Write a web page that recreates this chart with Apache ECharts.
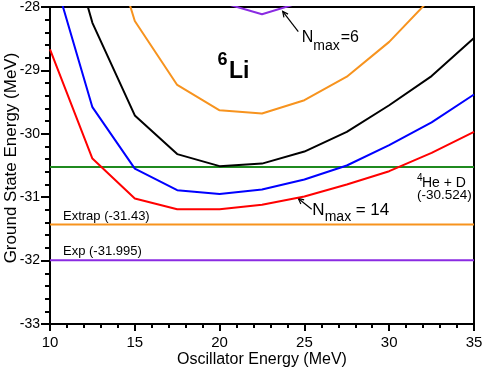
<!DOCTYPE html>
<html>
<head>
<meta charset="utf-8">
<script src="https://cdn.jsdelivr.net/npm/echarts@6/dist/echarts.min.js"></script>
<style>
  html, body { margin: 0; padding: 0; background: #fff; }
  #main { width: 491px; height: 368px; }
</style>
</head>
<body>
<div id="main"></div>
<script>
// oscillator energies (MeV)
var hw = [10, 12.5, 15, 17.5, 20, 22.5, 25, 27.5, 30, 32.5, 35];

// ground state energy per Nmax (values above -28 run off the top of the frame)
var nmax14 = [-28.67, -30.39, -31.02, -31.19, -31.19, -31.12, -30.99, -30.80, -30.59, -30.30, -29.97];
var nmax12 = [-27.30, -29.58, -30.55, -30.89, -30.95, -30.88, -30.72, -30.50, -30.18, -29.82, -29.38];
var nmax10 = [-25.90, -28.25, -29.71, -30.32, -30.51, -30.47, -30.28, -29.97, -29.55, -29.09, -28.49];
var nmax8 = [null, -26.06, -28.22, -29.23, -29.63, -29.68, -29.47, -29.10, -28.55, -27.85, null];
var nmax6 = [null, null, null, null, -27.92, -28.115, -27.91, null, null, null, null];

// reference levels
var heD = -30.524;
var extrap = -31.43;
var expt = -31.995;

var xTicks = [10, 15, 20, 25, 30, 35];

function pairs(ys) {
    var out = [];
    for (var i = 0; i < hw.length; i++) {
        if (ys[i] !== null) out.push([hw[i], ys[i]]);
    }
    return out;
}
function level(v) {
    return [[hw[0], v], [hw[hw.length - 1], v]];
}

var font = 'Liberation Sans';
var myChart = echarts.init(document.getElementById('main'));

function lineSeries(name, data, color) {
    return {
        name: name,
        type: 'line',
        data: data,
        symbol: 'none',
        clip: true,
        silent: true,
        lineStyle: { color: color, width: 2 }
    };
}

var option = {
    animation: false,
    backgroundColor: '#fff',
    textStyle: { fontFamily: font },
    grid: {
        left: 50, right: 17, top: 7, bottom: 44,
        containLabel: false, outerBoundsMode: 'none',
        show: true, borderColor: '#000', borderWidth: 2, backgroundColor: 'transparent'
    },
    xAxis: {
        type: 'value',
        min: 10, max: 35, interval: 5,
        name: 'Oscillator Energy (MeV)',
        nameLocation: 'middle',
        nameGap: 28,
        nameMoveOverlap: false,
        nameTextStyle: { color: '#000', fontSize: 16, fontFamily: font },
        axisLine: { show: true, onZero: false, lineStyle: { color: '#000', width: 2 } },
        axisTick: { show: true, inside: false, length: 7, lineStyle: { color: '#000', width: 2 } },
        minorTick: { show: true, splitNumber: 5, length: 4, lineStyle: { color: '#000', width: 2 } },
        axisLabel: {
            color: '#000', fontSize: 15, fontFamily: font, margin: 11,
            formatter: function (v) { return xTicks.indexOf(v) >= 0 ? String(v) : ''; }
        },
        splitLine: { show: false }
    },
    yAxis: {
        type: 'value',
        min: -33, max: -28, interval: 1,
        name: 'Ground State Energy (MeV)',
        nameLocation: 'middle',
        nameGap: 30,
        nameMoveOverlap: false,
        nameTextStyle: { color: '#000', fontSize: 17, fontFamily: font, padding: [0, 0, 0, 15] },
        axisLine: { show: true, onZero: false, lineStyle: { color: '#000', width: 2 } },
        axisTick: { show: true, inside: false, length: 9, lineStyle: { color: '#000', width: 2 } },
        minorTick: { show: true, splitNumber: 5, length: 5, lineStyle: { color: '#000', width: 2 } },
        axisLabel: { color: '#000', fontSize: 14, fontFamily: font, margin: 10 },
        splitLine: { show: false }
    },
    series: [
        lineSeries('Exp', level(expt), '#8a2be2'),
        lineSeries('Extrap', level(extrap), '#f7931e'),
        lineSeries('4He + D', level(heD), '#1f8a1f'),
        lineSeries('Nmax=6', pairs(nmax6), '#8a2be2'),
        lineSeries('Nmax=8', pairs(nmax8), '#f7931e'),
        lineSeries('Nmax=10', pairs(nmax10), '#000000'),
        lineSeries('Nmax=12', pairs(nmax12), '#0000ff'),
        lineSeries('Nmax=14', pairs(nmax14), '#ff0000')
    ]
};
myChart.setOption(option);

// annotations placed from data coordinates
function px(x, y) { return myChart.convertToPixel({ gridIndex: 0 }, [x, y]); }
function txt(x, y, s, size, weight) {
    return {
        type: 'text', x: x, y: y, silent: true,
        style: {
            text: s, fill: '#000', fontSize: size, fontFamily: font,
            fontWeight: weight || 'normal', verticalAlign: 'middle', align: 'left'
        }
    };
}
function arrow(x1, y1, x2, y2) {
    var ang = Math.atan2(y2 - y1, x2 - x1);
    var L = 6, w = 0.45;
    return [
        { type: 'line', shape: { x1: x1, y1: y1, x2: x2, y2: y2 }, style: { stroke: '#000', lineWidth: 1.2 }, silent: true },
        { type: 'polyline', shape: { points: [
            [x2 - L * Math.cos(ang - w), y2 - L * Math.sin(ang - w)],
            [x2, y2],
            [x2 - L * Math.cos(ang + w), y2 - L * Math.sin(ang + w)]
        ] }, style: { stroke: '#000', lineWidth: 1.2, fill: null }, silent: true }
    ];
}

var g = [];
var pL = px(10, extrap);
g.push(txt(pL[0] + 13, pL[1] - 8, 'Extrap (-31.43)', 13));
var pE = px(10, expt);
g.push(txt(pE[0] + 13, pE[1] - 9, 'Exp (-31.995)', 13));

var pH = px(35, heD);
g.push(txt(pH[0] - 57, pH[1] + 11, '4', 10));
g.push(txt(pH[0] - 52, pH[1] + 16, 'He + D', 14));
g.push(txt(pH[0] - 57, pH[1] + 28, '(-30.524)', 13.5));

// Nmax = 14 label with arrow to the red curve
var a14 = px(24.64, -31.02);
var t14 = px(25.43, -31.19);
g = g.concat(arrow(t14[0], t14[1], a14[0], a14[1]));
g.push(txt(t14[0] + 0.5, t14[1] + 1, 'N', 17));
g.push(txt(t14[0] + 13, t14[1] + 8, 'max', 14));
g.push(txt(t14[0] + 44, t14[1] + 1, '= 14', 17));

// Nmax=6 label with arrow to the purple curve
var a6 = px(23.72, -28.07);
var t6 = px(24.64, -28.39);
g = g.concat(arrow(t6[0], t6[1], a6[0], a6[1]));
g.push(txt(t6[0] + 3.4, t6[1] + 6, 'N', 16));
g.push(txt(t6[0] + 15, t6[1] + 14, 'max', 14));
g.push(txt(t6[0] + 42.4, t6[1] + 6, '=6', 16));

// 6Li
var pLi = px(20, -28.7);
g.push(txt(pLi[0] - 2, pLi[1] + 9, '6', 18, 'bold'));
g.push(txt(pLi[0] + 9.4, pLi[1] + 20, 'Li', 23, 'bold'));

myChart.setOption({ graphic: g });
</script>
</body>
</html>
